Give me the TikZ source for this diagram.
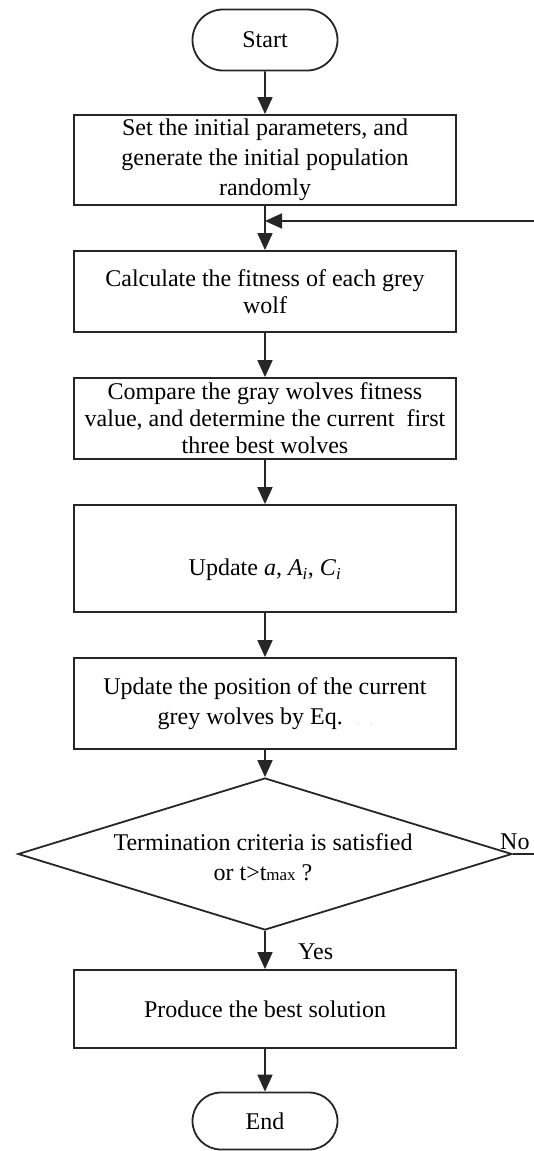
\documentclass[tikz,border=0pt]{standalone}
\usepackage{fontspec}
\setmainfont{Liberation Serif}
\usetikzlibrary{shapes.geometric,shapes.misc,arrows.meta}
\begin{document}
\begin{tikzpicture}[x=1pt,y=-1pt,
  line/.style={draw=black!85, line width=1.8pt},
  flow/.style={line, -{Triangle[length=17pt,width=15pt]}},
  txt/.style={font=\fontsize{24}{30}\selectfont, text=black},
  tight/.style={font=\fontsize{24}{27}\selectfont},
  term/.style={rounded rectangle, line, txt, minimum width=145pt, minimum height=61pt, inner sep=0pt},
  proc/.style={rectangle, line, txt, minimum width=382pt, inner sep=0pt, align=center},
  lbl/.style={txt, inner sep=0pt}]
\useasboundingbox (0,0) rectangle (534,1151);
\node[term] (start) at (265,40) {Start};
\node[proc, minimum height=90pt] (b1) at (265,160) {Set the initial parameters, and\\generate the initial population\\randomly};
\node[proc, tight, minimum height=81pt] (b2) at (265,291.5) {Calculate the fitness of each grey\\wolf};
\node[proc, tight, minimum height=81pt] (b3) at (265,418.5) {Compare the gray wolves fitness\\value, and determine the current\ \ first\\three best wolves};
\node[proc, minimum height=107pt] (b4) at (265,558.5) {\raisebox{-17pt}[0pt][0pt]{Update \textit{a}, \textit{A}\textsubscript{\textit{i}}, \textit{C}\textsubscript{\textit{i}}}};
\node[proc, minimum height=91pt] (b5) at (265,703.5) {Update the position of the current\\grey wolves by Eq.\hspace{14pt}{\color{black!35}\fontsize{9}{9}\selectfont .\hspace{11pt}.}};
\node[diamond, line, minimum width=494pt, minimum height=152pt, inner sep=0pt] (dec) at (265,854) {};
\node[lbl, align=center] (dect) at (263,857) {Termination criteria is satisfied\\or t>t{\fontsize{17}{20}\selectfont max} ?};
\node[proc, minimum height=78pt] (b6) at (265,1009) {Produce the best solution};
\node[term, minimum height=57pt] (end) at (265,1121) {End};
\node[lbl, anchor=south west] (no) at (500,850) {No};
\node[lbl, anchor=west] (yes) at (298,952) {Yes};
\coordinate (fb) at (534,221);
\coordinate (noend) at (534,854);
\draw[flow] (start) -- (b1);
\draw[flow] (b1) -- (b2);
\draw[flow] (fb) -- (fb -| b1.south);
\draw[flow] (b2) -- (b3);
\draw[flow] (b3) -- (b4);
\draw[flow] (b4) -- (b5);
\draw[flow] (b5) -- (dec);
\draw[flow] (dec) -- (b6);
\draw[flow] (b6) -- (end);
\draw[line] (dec.east) -- (noend);
\end{tikzpicture}
\end{document}
